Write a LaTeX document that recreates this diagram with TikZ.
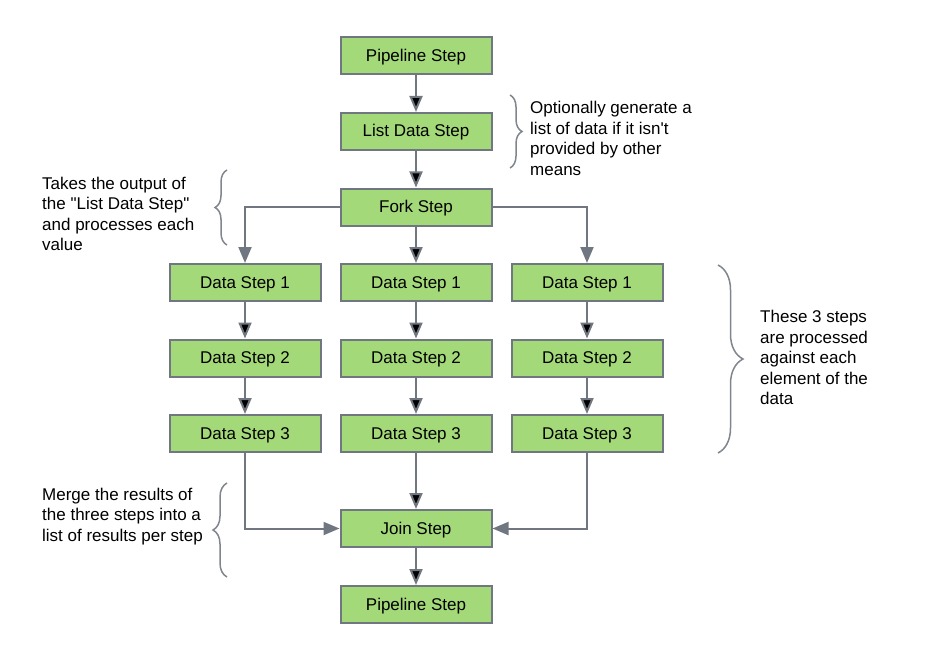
\documentclass[tikz,border=0pt]{standalone}
\usepackage{fontspec}
\setmainfont{Liberation Sans}[Ligatures=TeXOff]
\usepackage{tikz}
\usetikzlibrary{positioning,arrows.meta}
\usetikzlibrary{decorations.pathreplacing}
\definecolor{stepgreen}{RGB}{163,217,120}
\definecolor{stepgray}{RGB}{112,119,129}
\definecolor{bracegray}{RGB}{128,134,142}

\begin{document}
\begin{tikzpicture}[x=1pt,y=-1pt,node distance=75.5pt and 171pt,on grid]
    \tikzset{stepbox/.style={draw=stepgray,fill=stepgreen,line width=2pt,rectangle,
        minimum width=151pt,minimum height=37pt,text height=12pt,text depth=1pt,
        font=\fontsize{17}{20}\selectfont}}
    \tikzset{flow/.style={draw=stepgray,line width=2pt,-{Triangle[length=16pt,width=13pt]}}}
    \tikzset{note/.style={align=left,inner sep=0pt,anchor=west,font=\fontsize{17}{20.5}\selectfont}}
    \tikzset{curly/.style={draw=bracegray,line width=1.5pt,decorate}}
    \useasboundingbox (0,0) rectangle (928,663);

    \node[stepbox] (pipe) at (416,56) {Pipeline Step};
    \node[stepbox] (list) [below = of pipe] {List Data Step};
    \node[stepbox] (fork) [below = of list] {Fork Step};

    \node[stepbox] (dsb1) [below = of fork] {Data Step 1};
    \node[stepbox] (dsb2) [below = of dsb1] {Data Step 2};
    \node[stepbox] (dsb3) [below = of dsb2] {Data Step 3};
    \node[stepbox] (dsa1) [left = of dsb1] {Data Step 1};
    \node[stepbox] (dsa2) [below = of dsa1] {Data Step 2};
    \node[stepbox] (dsa3) [below = of dsa2] {Data Step 3};
    \node[stepbox] (dsc1) [right = of dsb1] {Data Step 1};
    \node[stepbox] (dsc2) [below = of dsc1] {Data Step 2};
    \node[stepbox] (dsc3) [below = of dsc2] {Data Step 3};

    \node[stepbox] (join) [below = 95pt of dsb3] {Join Step};
    \node[stepbox] (pipeb) [below = 76pt of join] {Pipeline Step};

    % notes
    \node[note] (notelist) at (530,138.5) {Optionally generate a\\list of data if it isn't\\provided by other\\means};
    \node[note] (notefork) at (42,214) {Takes the output of\\the "List Data Step"\\and processes each\\value};
    \node[note] (notedata) at (760,357.5) {These 3 steps\\are processed\\against each\\element of the\\data};
    \node[note] (notejoin) at (42,516.5) {Merge the results of\\the three steps into a\\list of results per step};

    \path[flow]
    (pipe) edge (list)
    (list) edge (fork)
    (fork) edge (dsb1)
    (dsa1) edge (dsa2)
    (dsa2) edge (dsa3)
    (dsb1) edge (dsb2)
    (dsb2) edge (dsb3)
    (dsc1) edge (dsc2)
    (dsc2) edge (dsc3)
    (dsb3) edge (join)
    (join) edge (pipeb);
    \draw[flow] (fork.west) -| (dsa1.north);
    \draw[flow] (fork.east) -| (dsc1.north);
    \draw[flow] (dsa3.south) |- (join.west);
    \draw[flow] (dsc3.south) |- (join.east);

    % braces
    \coordinate (bl1) at (510,95);
    \coordinate (bl2) at (510,168);
    \coordinate (bf1) at (227,245);
    \coordinate (bf2) at (227,170);
    \coordinate (bd1) at (718,265);
    \coordinate (bd2) at (718,453);
    \coordinate (bj1) at (227,577);
    \coordinate (bj2) at (227,483);
    \draw[curly,decoration={brace,amplitude=12pt}] (bl1) -- (bl2);
    \draw[curly,decoration={brace,amplitude=12pt}] (bf1) -- (bf2);
    \draw[curly,decoration={brace,amplitude=25pt}] (bd1) -- (bd2);
    \draw[curly,decoration={brace,amplitude=14pt}] (bj1) -- (bj2);
\end{tikzpicture}
\end{document}
